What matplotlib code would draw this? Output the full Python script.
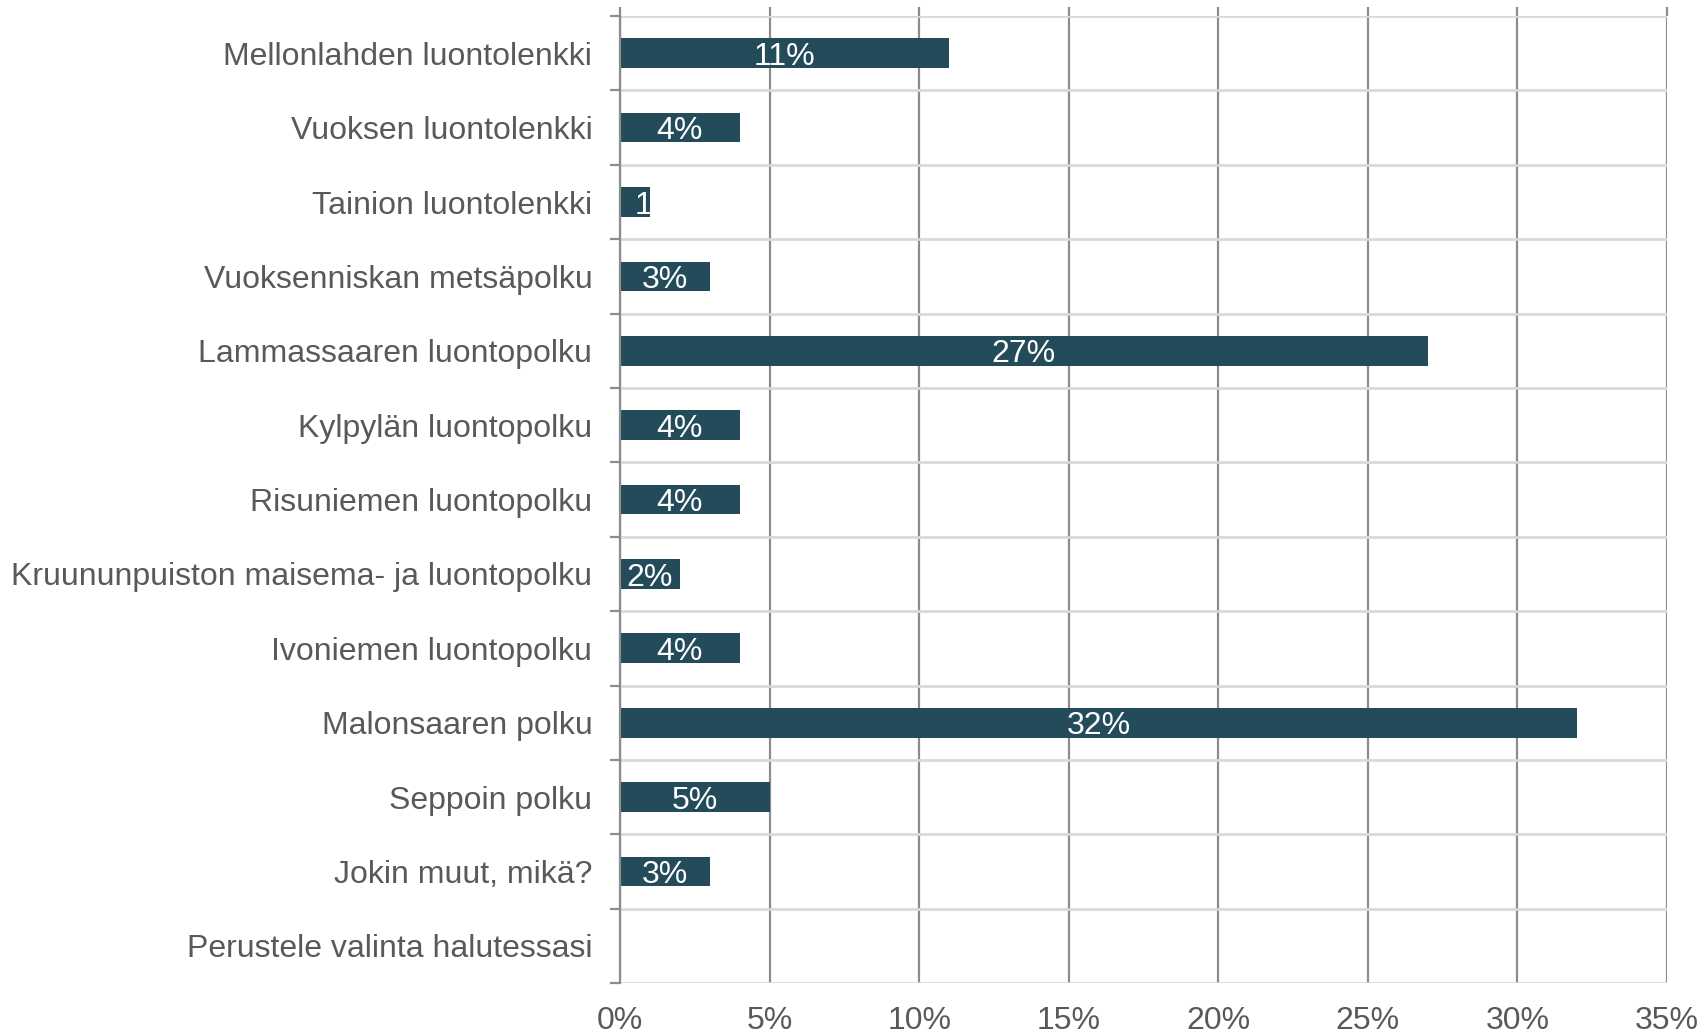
import matplotlib.pyplot as plt
import numpy as np

plt.rcParams['font.family'] = ['Liberation Sans', 'DejaVu Sans']

# data
trails = ["Mellonlahden luontolenkki", "Vuoksen luontolenkki", "Tainion luontolenkki",
          "Vuoksenniskan metsäpolku", "Lammassaaren luontopolku", "Kylpylän luontopolku",
          "Risuniemen luontopolku", "Kruununpuiston maisema- ja luontopolku",
          "Ivoniemen luontopolku", "Malonsaaren polku", "Seppoin polku",
          "Jokin muut, mikä?", "Perustele valinta halutessasi"]
shares = [11, 4, 1, 3, 27, 4, 4, 2, 4, 32, 5, 3, 0]
bar_labels = ["11%", "4%", "1", "3%", "27%", "4%", "4%", "2%", "4%", "32%", "5%", "3%", ""]
xticks = [0, 5, 10, 15, 20, 25, 30, 35]

bar_col = "#234B59"
txt_col = "#595959"
vgrid = "#8C8C8C"
hgrid = "#D9D9D9"

fig = plt.figure(figsize=(17.03, 10.35), dpi=100)
ax = fig.add_axes([0.3641, 0.0502, 0.6148, 0.9343])

y = np.arange(len(trails))
ax.barh(y, shares, height=0.4, color=bar_col, zorder=3)
for yi, v, lab in zip(y, shares, bar_labels):
    if not lab:
        continue
    # the tiny bar's label is cut in the original, only "1" shows at its right end
    xpos = v * 0.8 if v < 2 else v / 2
    ax.text(xpos, yi + 0.05, lab, ha="center", va="center", color="white",
            fontsize=23, zorder=4)

ax.set_xlim(0, 35)
ax.set_ylim(len(trails) - 0.5, -0.5)

ax.set_xticks(xticks)
ax.set_xticklabels([f"{t}%" for t in xticks])
ax.set_yticks(y)
ax.set_yticklabels(trails)
ax.set_yticks(np.arange(-0.5, len(trails)), minor=True)

ax.grid(axis="x", color=vgrid, linewidth=1.6, zorder=1)
ax.grid(axis="y", which="minor", color=hgrid, linewidth=2, zorder=1)
ax.grid(axis="y", which="major", visible=False)

ax.tick_params(axis="x", top=True, bottom=False, labeltop=False, labelbottom=True,
               length=6.5, width=1.6, color=vgrid, pad=10, labelsize=23, labelcolor=txt_col)
ax.tick_params(axis="y", which="major", length=0, pad=20, labelsize=23, labelcolor=txt_col)
ax.tick_params(axis="y", which="minor", length=7.2, width=1.6, color=vgrid)

for s in ["top", "right", "bottom"]:
    ax.spines[s].set_visible(False)
ax.spines["left"].set_color(vgrid)
ax.spines["left"].set_linewidth(1.6)
ax.spines["left"].set_zorder(5)

fig.savefig("out.png", dpi=100)
